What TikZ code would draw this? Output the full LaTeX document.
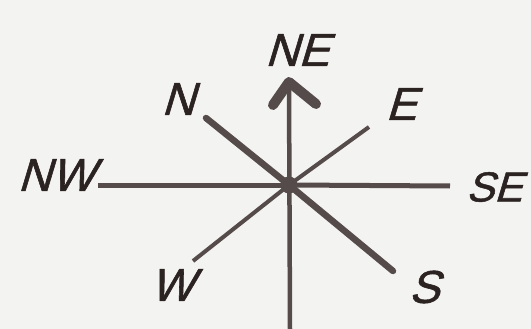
\documentclass[tikz,border=0pt]{standalone}
\usepackage{fontspec}
\newfontfamily\hand[FakeSlant=0.3,FakeBold=1.2]{Liberation Sans}
\definecolor{bg}{HTML}{F3F3F1}
\definecolor{ink}{HTML}{554B4B}
\definecolor{txt}{HTML}{2B2222}
\begin{document}
\begin{tikzpicture}[x=1pt,y=-1pt,
  ray/.style={draw=ink,line width=#1},
  ray/.default=3,
  lbl/.style={text=txt,font=\hand\fontsize{46}{46}\selectfont,inner sep=0pt}]
\useasboundingbox (0,0) rectangle (531,329);
\fill[bg] (0,0) rectangle (531,329);
% centre
\node[circle,fill=ink,minimum size=17pt,inner sep=0pt] (O) at (289,185) {};
% end points
\coordinate (tn) at (206,118);
\coordinate (ts) at (393,271);
\coordinate (te) at (369,127);
\coordinate (tw) at (193,261);
\coordinate (tnw) at (98,185);
\coordinate (tse) at (450,186);
\coordinate (tup) at (289,82);
\coordinate (tdn) at (290,329);
% rays
\draw[ray=5] (O.center) -- (tnw);
\draw[ray=5] (O.center) -- (tse);
\draw[ray=6.5,line cap=round] (O.center) -- (tn);
\draw[ray=6.5,line cap=round] (O.center) -- (ts);
\draw[ray=4] (O.center) -- (te);
\draw[ray=4] (O.center) -- (tw);
\draw[ray=4.5] (tdn) -- (tup);
% arrow head
\draw[ink,line width=10,line cap=round,line join=round] (273,105) -- (tup) -- (316,104);
% labels
\node[lbl] (NE) at (297,50) {NE};
\node[lbl] (N) at (178,99) {N};
\node[lbl] (E) at (401,104) {E};
\node[lbl] (NW) at (56,175) {NW};
\node[lbl,font=\hand\fontsize{42}{42}\selectfont] (SE) at (494,187) {SE};
\node[lbl] (W) at (172,285) {W};
\node[lbl] (S) at (424,287) {S};
\end{tikzpicture}
\end{document}
